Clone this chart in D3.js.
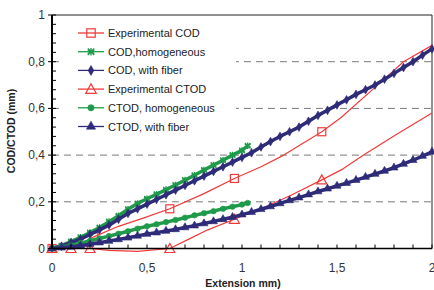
<!DOCTYPE html>
<html>
<head>
<meta charset="utf-8">
<script src="https://cdn.jsdelivr.net/npm/d3@7/dist/d3.min.js"></script>
<style>
  body { margin: 0; background: #fff; }
  text { font-family: "Liberation Sans", Arial, sans-serif; }
</style>
</head>
<body>
<div id="chart"></div>
<script>
// experimental curves (line + few markers)
const expCodX = [0, 0.12, 0.22, 0.35, 0.48, 0.62, 0.8, 0.96, 1.1, 1.22, 1.42, 1.52, 1.7, 1.85, 2.0];
const expCodY = [0, 0.005, 0.05, 0.095, 0.13, 0.17, 0.235, 0.30, 0.35, 0.40, 0.50, 0.56, 0.69, 0.80, 0.87];
const expCodMarkX = [0, 0.22, 0.62, 0.96, 1.42];
const expCodMarkY = [0, 0.05, 0.17, 0.30, 0.50];

const expCtodX = [0, 0.1, 0.2, 0.3, 0.45, 0.62, 0.72, 0.82, 0.96, 1.1, 1.25, 1.42, 1.53, 1.64, 1.81, 2.0];
const expCtodY = [0, 0, 0, -0.008, -0.012, 0, 0.04, 0.08, 0.125, 0.17, 0.225, 0.294, 0.34, 0.40, 0.487, 0.58];
const expCtodMarkX = [0, 0.1, 0.2, 0.62, 0.96, 1.42];
const expCtodMarkY = [0, 0, 0, 0, 0.125, 0.294];

// numerical curves
const fiberX = [0, 0.05, 0.1, 0.15, 0.2, 0.25, 0.3, 0.35, 0.4, 0.45, 0.5, 0.55, 0.6, 0.65, 0.7, 0.75, 0.8, 0.85, 0.9, 0.95,
  1.0, 1.05, 1.1, 1.15, 1.2, 1.25, 1.3, 1.35, 1.4, 1.45, 1.5, 1.55, 1.6, 1.65, 1.7, 1.75, 1.8, 1.85, 1.9, 1.95, 2.0];
const codFiberY = [0, 0.01, 0.025, 0.04, 0.06, 0.08, 0.10, 0.125, 0.15, 0.17, 0.19, 0.21, 0.23, 0.25, 0.27, 0.29, 0.31, 0.33, 0.35, 0.37,
  0.39, 0.41, 0.435, 0.458, 0.48, 0.50, 0.52, 0.545, 0.57, 0.592, 0.615, 0.637, 0.66, 0.68, 0.70, 0.725, 0.75, 0.775, 0.80, 0.828, 0.855];
const ctodFiberY = [0, 0.003, 0.007, 0.012, 0.018, 0.025, 0.032, 0.039, 0.046, 0.054, 0.062, 0.068, 0.075, 0.082, 0.09, 0.098, 0.107, 0.116, 0.125, 0.134,
  0.145, 0.156, 0.168, 0.18, 0.193, 0.206, 0.218, 0.231, 0.244, 0.256, 0.268, 0.28, 0.293, 0.306, 0.319, 0.332, 0.346, 0.362, 0.378, 0.396, 0.414];

const homX = [0, 0.05, 0.1, 0.15, 0.2, 0.25, 0.3, 0.35, 0.4, 0.45, 0.5, 0.55, 0.6, 0.65, 0.7, 0.75, 0.8, 0.85, 0.9, 0.95, 1.0, 1.03];
const codHomY = [0, 0.012, 0.03, 0.048, 0.068, 0.09, 0.115, 0.14, 0.168, 0.193, 0.213, 0.232, 0.252, 0.272, 0.293, 0.314, 0.336, 0.357, 0.378, 0.40, 0.42, 0.44];
const ctodHomY = [0, 0.006, 0.014, 0.023, 0.033, 0.043, 0.053, 0.063, 0.074, 0.085, 0.095, 0.104, 0.113, 0.122, 0.132, 0.142, 0.151, 0.16, 0.17, 0.179, 0.188, 0.195];

const xTicks = [0, 0.5, 1, 1.5, 2];
const yTicks = [0, 0.2, 0.4, 0.6, 0.8, 1];
const gridVals = [0.2, 0.4, 0.6, 0.8];

const red = '#f03a3a', green = '#1f9a4a', navy = '#2e2c78';

const series = [
  { name: 'Experimental COD', x: expCodX, y: expCodY, mx: expCodMarkX, my: expCodMarkY, color: red, sym: 'square', lw: 1.2 },
  { name: 'COD,homogeneous', x: homX, y: codHomY, mx: homX, my: codHomY, color: green, sym: 'asterisk', lw: 3.5 },
  { name: 'COD, with fiber', x: fiberX, y: codFiberY, mx: fiberX, my: codFiberY, color: navy, sym: 'diamond', lw: 3.5 },
  { name: 'Experimental CTOD', x: expCtodX, y: expCtodY, mx: expCtodMarkX, my: expCtodMarkY, color: red, sym: 'triangleOpen', lw: 1.2 },
  { name: 'CTOD, homogeneous', x: homX, y: ctodHomY, mx: homX, my: ctodHomY, color: green, sym: 'circle', lw: 3.5 },
  { name: 'CTOD, with fiber', x: fiberX, y: ctodFiberY, mx: fiberX, my: ctodFiberY, color: navy, sym: 'triangle', lw: 3.5 }
];

const W = 434, H = 290;
const margin = { top: 15, right: 3, bottom: 42, left: 52 };

const svg = d3.select('#chart').append('svg').attr('width', W).attr('height', H);

const x = d3.scaleLinear().domain([0, 2]).range([margin.left, 432]);
const y = d3.scaleLinear().domain([0, 1]).range([248.5, margin.top]);

// dashed grid
svg.append('g').selectAll('line').data(gridVals).enter().append('line')
  .attr('x1', x(0)).attr('x2', x(2))
  .attr('y1', d => y(d)).attr('y2', d => y(d))
  .attr('stroke', '#7a7a7a').attr('stroke-width', 1).attr('stroke-dasharray', '7,5');

// frame top / right
svg.append('path')
  .attr('d', `M${x(0)},${y(1)}H${x(2)}V${y(0)}`)
  .attr('fill', 'none').attr('stroke', '#222').attr('stroke-width', 1);

// symbol helper
function drawMark(g, sym, color, px, py, scale = 1) {
  if (sym === 'square') {
    g.append('rect').attr('x', px - 4 * scale).attr('y', py - 4 * scale)
      .attr('width', 8 * scale).attr('height', 8 * scale)
      .attr('fill', 'none').attr('stroke', color).attr('stroke-width', 1.2);
  } else if (sym === 'triangleOpen') {
    const s = 5 * scale;
    g.append('path').attr('d', `M${px},${py - s}L${px + s},${py + s * 0.8}L${px - s},${py + s * 0.8}Z`)
      .attr('fill', 'none').attr('stroke', color).attr('stroke-width', 1.2);
  } else if (sym === 'asterisk') {
    g.append('path').attr('d', d3.symbol(d3.symbolAsterisk, 30 * scale)())
      .attr('transform', `translate(${px},${py})`)
      .attr('fill', 'none').attr('stroke', color).attr('stroke-width', 1.4);
    g.append('path').attr('d', d3.symbol(d3.symbolX, 22 * scale)())
      .attr('transform', `translate(${px},${py})`)
      .attr('fill', 'none').attr('stroke', color).attr('stroke-width', 1.4);
  } else {
    const t = { diamond: d3.symbolDiamond, circle: d3.symbolCircle, triangle: d3.symbolTriangle }[sym];
    const size = { diamond: 22, circle: 24, triangle: 28 }[sym];
    g.append('path').attr('d', d3.symbol(t, size * scale)())
      .attr('transform', `translate(${px},${py})`)
      .attr('fill', color).attr('stroke', color).attr('stroke-width', 0.6);
  }
}

// plot series
const line = d3.line().x(d => x(d[0])).y(d => y(d[1]));
series.forEach(s => {
  const g = svg.append('g');
  g.append('path').datum(s.x.map((v, i) => [v, s.y[i]]))
    .attr('d', line).attr('fill', 'none')
    .attr('stroke', s.color).attr('stroke-width', s.lw)
    .attr('stroke-linejoin', 'round');
  s.mx.forEach((v, i) => drawMark(g, s.sym, s.color, x(v), y(s.my[i])));
});

// y axis
const yAxis = svg.append('g');
yAxis.append('line').attr('x1', x(0)).attr('x2', x(0)).attr('y1', y(1)).attr('y2', y(0))
  .attr('stroke', '#000').attr('stroke-width', 2);
d3.range(0, 26).forEach(i => {
  const v = i * 0.04;
  const major = i % 5 === 0;
  yAxis.append('line')
    .attr('x1', major ? x(0) - 4 : x(0)).attr('x2', x(0) + 4)
    .attr('y1', y(v)).attr('y2', y(v))
    .attr('stroke', '#000').attr('stroke-width', 1);
});
yAxis.selectAll('text').data(yTicks).enter().append('text')
  .attr('x', x(0) - 7).attr('y', d => y(d) + 4)
  .attr('text-anchor', 'end').attr('font-size', 12).attr('fill', '#333')
  .text(d => d3.format('.1f')(d).replace('.', ',').replace(/,0$/, ''));

// x axis
const xAxis = svg.append('g');
xAxis.append('line').attr('x1', x(0)).attr('x2', x(2)).attr('y1', y(0)).attr('y2', y(0))
  .attr('stroke', '#000').attr('stroke-width', 1.4);
d3.range(1, 21).forEach(i => {
  xAxis.append('line')
    .attr('x1', x(i * 0.1)).attr('x2', x(i * 0.1))
    .attr('y1', y(0)).attr('y2', y(0) - 4)
    .attr('stroke', '#000').attr('stroke-width', 1);
});
xAxis.selectAll('text').data(xTicks).enter().append('text')
  .attr('x', d => x(d)).attr('y', 272)
  .attr('text-anchor', 'middle').attr('font-size', 12).attr('fill', '#333')
  .text(d => String(d).replace('.', ','));

// axis titles
svg.append('text').attr('x', 243).attr('y', 287)
  .attr('text-anchor', 'middle').attr('font-size', 10.5).attr('font-weight', 'bold').attr('fill', '#222')
  .text('Extension mm)');
svg.append('text').attr('transform', 'translate(15,131) rotate(-90)')
  .attr('text-anchor', 'middle').attr('font-size', 10.5).attr('font-weight', 'bold').attr('fill', '#222')
  .text('COD/CTOD (mm)');

// legend
const lg = svg.append('g');
lg.append('rect').attr('x', 60).attr('y', 22).attr('width', 176).attr('height', 116).attr('fill', '#fff');
series.forEach((s, i) => {
  const ly = 33 + i * 18.7;
  lg.append('line').attr('x1', 78).attr('x2', 104).attr('y1', ly).attr('y2', ly)
    .attr('stroke', s.color).attr('stroke-width', 1.3);
  drawMark(lg, s.sym, s.color, 91, ly, s.sym === 'square' || s.sym === 'triangleOpen' ? 1.05 : 1.3);
  lg.append('text').attr('x', 108).attr('y', ly + 4)
    .attr('font-size', 11).attr('fill', '#222').text(s.name);
});
</script>
</body>
</html>
